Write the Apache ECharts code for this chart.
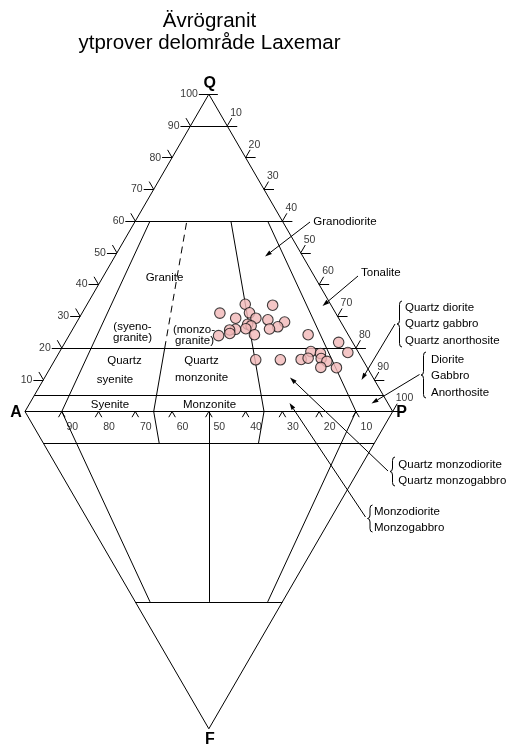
<!DOCTYPE html>
<html>
<head>
<meta charset="utf-8">
<script src="https://cdn.jsdelivr.net/npm/echarts@6/dist/echarts.min.js"></script>
<style>
html, body { margin: 0; padding: 0; background: #fff; }
#chart { width: 509px; height: 744px; }
</style>
</head>
<body>
<div id="chart"></div>
<script>
// Modal composition of the samples (%): quartz, alkali feldspar, plagioclase
const sampleQ = [31.0, 33.8, 33.5, 29.4, 31.1, 29.4, 28.9, 28.2, 26.7, 26.0, 27.5, 27.0, 26.1, 25.9, 25.7, 24.6,
                 23.9, 24.2, 16.3, 16.3, 16.4, 24.2, 21.8, 18.6, 18.9, 18.3, 16.8, 16.7, 15.8, 13.9, 13.8];
const sampleA = [31.5, 23.2, 15.9, 28.0, 23.4, 22.5, 19.5, 15.3, 17.9, 20.5, 25.7, 25.0, 26.9, 29.8, 31.5, 32.0,
                 35.4, 25.5, 29.1, 22.4, 16.7, 10.9, 3.8, 2.9, 12.8, 10.5, 14.6, 11.1, 10.0, 12.6, 8.4];
const sampleP = [37.5, 43.0, 50.6, 42.6, 45.5, 48.1, 51.6, 56.5, 55.4, 53.5, 46.8, 48.0, 47.0, 44.3, 42.8, 43.4,
                 40.7, 50.3, 54.6, 61.3, 66.9, 64.9, 74.4, 78.5, 68.3, 71.2, 68.6, 72.2, 74.2, 73.5, 77.8];

// Edge tick labels
const qTicks = [10, 20, 30, 40, 50, 60, 70, 80, 90, 100];     // Q %, left edge
const apTicks = [10, 20, 30, 40, 50, 60, 70, 80, 90, 100];    // A+P %, right edge
const aTicks = [90, 80, 70, 60, 50, 40, 30, 20, 10];          // A % of A+P, base

// Field boundaries (Streckeisen QAPF)
const qLevels = [90, 60, 20, 5];            // horizontal Q boundaries
const fLevels = [10, 60];                   // horizontal F boundaries
const qapSplits = [[10, 0, 60], [35, 0, 20], [65, 0, 60], [90, 0, 60]];   // [P/(A+P), Q from, Q to]
const qapDashed = [[35, 20, 60]];
const apfSplits = [[10, 0, 60], [35, 0, 10], [50, 0, 60], [65, 0, 10], [90, 0, 60]]; // [P/(A+P), F from, F to]

// ---- geometry helpers -------------------------------------------------
const H = Math.sqrt(3) / 2;
const SX = 367.7, SY = 366.4;       // pixels per unit side length
const BASE_Y = 411.5, LEFT_X = 25;
const Y_MIN = -0.9, Y_MAX = 0.9;

function qap(q, r) { return [(1 - q) * r + q / 2, q * H]; }   // q: Q fraction, r: P/(A+P)
function apf(f, r) { return [(1 - f) * r + f / 2, -f * H]; }  // f: F fraction
function nudge(pt, dx, dy) { return [pt[0] + dx / SX, pt[1] - dy / SY]; }

const solid = [], dashed = [], ticks = [];
const seg = (list, a, b) => list.push({ coords: [a, b] });

// outline of both triangles
seg(solid, qap(0, 0), qap(1, 0));
seg(solid, qap(1, 0), qap(0, 1));
seg(solid, qap(0, 0), qap(0, 1));
seg(solid, apf(0, 0), apf(1, 0));
seg(solid, apf(1, 0), apf(0, 1));
qLevels.forEach(q => seg(solid, qap(q / 100, 0), qap(q / 100, 1)));
fLevels.forEach(f => seg(solid, apf(f / 100, 0), apf(f / 100, 1)));
qapSplits.forEach(([r, a, b]) => seg(solid, qap(a / 100, r / 100), qap(b / 100, r / 100)));
qapDashed.forEach(([r, a, b]) => seg(dashed, qap(a / 100, r / 100), qap(b / 100, r / 100)));
apfSplits.forEach(([r, a, b]) => seg(solid, apf(a / 100, r / 100), apf(b / 100, r / 100)));

// tick marks
const leftLabels = [], rightLabels = [], baseLabels = [];
qTicks.forEach(v => {
  const e = qap(v / 100, 0);
  seg(ticks, e, nudge(e, -10, 0));
  if (v < 100) seg(ticks, e, nudge(e, -4.5, -7.8));
  else seg(ticks, e, nudge(e, 9, 0));
  leftLabels.push({ name: String(v), value: e });
});
apTicks.forEach(v => {
  const e = qap(1 - v / 100, 1);
  seg(ticks, e, nudge(e, 10, 0));
  seg(ticks, e, nudge(e, 4.5, -7.8));
  rightLabels.push({ name: String(v), value: e });
});
aTicks.forEach(v => {
  const e = qap(0, 1 - v / 100);
  seg(ticks, e, nudge(e, -3.3, 5.7));
  seg(ticks, e, nudge(e, 3.3, 5.7));
  baseLabels.push({ name: String(v), value: e });
});

const samples = sampleQ.map((q, i) => [sampleP[i] / 100 + q / 200, q / 100 * H]);

// ---- annotations -------------------------------------------------------
const FONT = '"Liberation Sans", Arial, Helvetica, sans-serif';
const INK = { stroke: '#000', lineWidth: 1, fill: null };
const txt = (text, x, y, size, align, weight) => ({
  type: 'text', x: x, y: y, z: 5,
  style: { text: text, font: (weight || 'normal') + ' ' + size + 'px ' + FONT, fill: '#000',
           textAlign: align || 'center', textVerticalAlign: 'middle' }
});
function arrow(x1, y1, x2, y2) {
  const ang = Math.atan2(y2 - y1, x2 - x1), L = 7, W = 2.2;
  const bx = x2 - L * Math.cos(ang), by = y2 - L * Math.sin(ang);
  const px = -Math.sin(ang) * W, py = Math.cos(ang) * W;
  return [
    { type: 'line', z: 5, shape: { x1: x1, y1: y1, x2: bx, y2: by }, style: INK },
    { type: 'polygon', z: 5, shape: { points: [[x2, y2], [bx + px, by + py], [bx - px, by - py]] }, style: { fill: '#000' } }
  ];
}
// curly brace opening to the right, tip at (x, middle)
function brace(x, y0, y1, w) {
  const ym = (y0 + y1) / 2, xs = x + w / 2, k = w * 0.7;
  const q = (x1, y1, cx, cy, x2, y2) => ({ type: 'bezierCurve', z: 5,
    shape: { x1: x1, y1: y1, cpx1: cx, cpy1: cy, x2: x2, y2: y2 }, style: INK });
  const l = (x1, y1, x2, y2) => ({ type: 'line', z: 5, shape: { x1: x1, y1: y1, x2: x2, y2: y2 }, style: INK });
  return [
    q(x + w, y0, xs, y0, xs, y0 + k),
    l(xs, y0 + k, xs, ym - k),
    q(xs, ym - k, xs, ym, x, ym),
    q(x, ym, xs, ym, xs, ym + k),
    l(xs, ym + k, xs, y1 - k),
    q(xs, y1 - k, xs, y1, x + w, y1)
  ];
}

const graphics = [
  txt('Ävrögranit', 209.5, 21.7, 20.5),
  txt('ytprover delområde Laxemar', 209.5, 43, 20.5),
  txt('Q', 209.8, 83.5, 16, 'center', 'bold'),
  txt('A', 16, 412.5, 16, 'center', 'bold'),
  txt('P', 401.5, 412.5, 16, 'center', 'bold'),
  txt('F', 210, 739.5, 16, 'center', 'bold'),
  txt('Granite', 164.5, 278.3, 11.5),
  txt('(syeno-', 132.5, 326.7, 11.5),
  txt('granite)', 132.5, 338.3, 11.5),
  txt('(monzo-', 194, 330, 11.5),
  txt('granite)', 194.5, 341, 11.5),
  txt('Quartz', 124.5, 360.7, 11.5),
  txt('syenite', 115, 380, 11.5),
  txt('Quartz', 201.5, 360.7, 11.5),
  txt('monzonite', 201.5, 378.3, 11.5),
  txt('Syenite', 110, 404.8, 11.5),
  txt('Monzonite', 209.5, 404.8, 11.5),
  txt('Granodiorite', 313.3, 221.5, 11.5, 'left'),
  txt('Tonalite', 361, 272.7, 11.5, 'left'),
  txt('Quartz diorite', 405, 308.3, 11.5, 'left'),
  txt('Quartz gabbro', 405, 324.3, 11.5, 'left'),
  txt('Quartz anorthosite', 405, 340.7, 11.5, 'left'),
  txt('Diorite', 431, 360, 11.5, 'left'),
  txt('Gabbro', 431, 376, 11.5, 'left'),
  txt('Anorthosite', 431, 392.7, 11.5, 'left'),
  txt('Quartz monzodiorite', 398.3, 465, 11.5, 'left'),
  txt('Quartz monzogabbro', 398.3, 480.7, 11.5, 'left'),
  txt('Monzodiorite', 374, 511.7, 11.5, 'left'),
  txt('Monzogabbro', 374, 528.3, 11.5, 'left')
].concat(
  brace(397, 301, 347, 5),
  brace(421, 352, 398, 5),
  brace(390, 457, 486, 5),
  brace(367.5, 505, 532, 5),
  arrow(310, 222, 265, 256.5),
  arrow(358, 276, 322.5, 306),
  arrow(395, 324, 361.5, 380),
  arrow(419.5, 374.5, 371.5, 403.5),
  arrow(388, 471, 290, 377.5),
  arrow(365.5, 517, 289.5, 403)
);

// ---- chart -------------------------------------------------------------
const chart = echarts.init(document.getElementById('chart'), null, { renderer: 'canvas' });
const labelSeries = (data, label) => ({
  type: 'scatter', data: data, symbolSize: 0, silent: true, clip: false,
  itemStyle: { color: 'transparent' },
  label: Object.assign({ show: true, formatter: '{b}', color: '#000', fontSize: 10.5, fontFamily: FONT }, label)
});
const lineSeries = (data, style) => ({
  type: 'lines', coordinateSystem: 'cartesian2d', data: data, silent: true, clip: false,
  polyline: false, symbol: 'none',
  lineStyle: Object.assign({ color: '#000', width: 1, opacity: 1, curveness: 0 }, style)
});

chart.setOption({
  animation: false,
  backgroundColor: '#fff',
  grid: { left: LEFT_X, width: SX, top: BASE_Y - Y_MAX * SY, height: (Y_MAX - Y_MIN) * SY, show: false },
  xAxis: { type: 'value', min: 0, max: 1, show: false },
  yAxis: { type: 'value', min: Y_MIN, max: Y_MAX, show: false },
  graphic: graphics,
  series: [
    lineSeries(solid, {}),
    lineSeries(dashed, { type: [7, 5] }),
    lineSeries(ticks, {}),
    labelSeries(leftLabels, { position: 'left', distance: 11 }),
    labelSeries(rightLabels, { position: 'right', distance: 3, offset: [0, -13] }),
    labelSeries(baseLabels, { position: 'bottom', distance: 10, offset: [10.5, 0] }),
    {
      type: 'scatter', data: samples, symbol: 'circle', symbolSize: 10.5, clip: false, z: 10,
      itemStyle: { color: '#f1b8b8', borderColor: '#111', borderWidth: 1.1 }
    }
  ]
});
</script>
</body>
</html>
